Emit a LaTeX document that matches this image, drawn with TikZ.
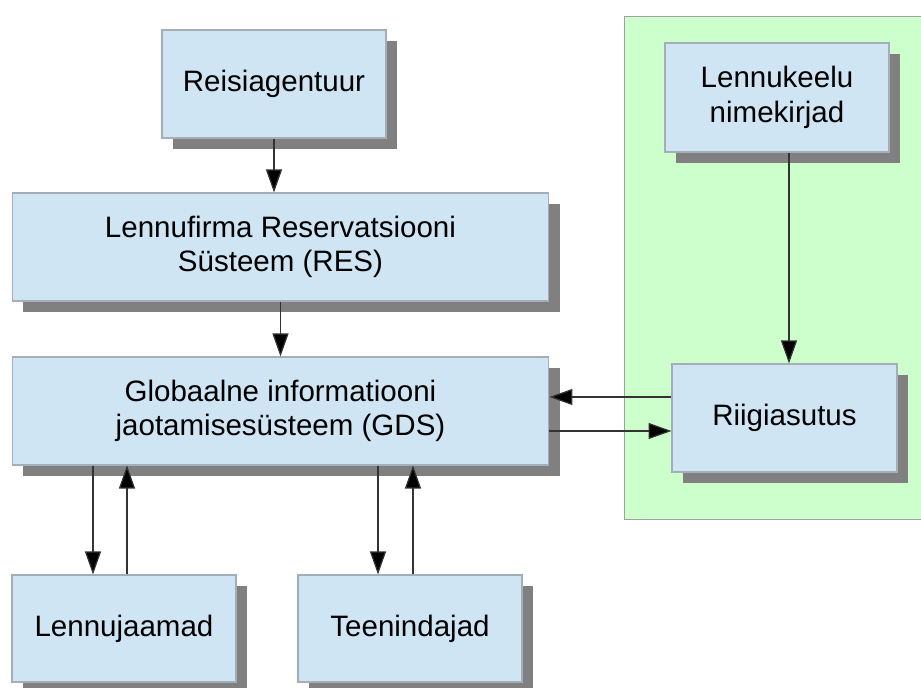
\documentclass[tikz,border=0pt]{standalone}
\usepackage{fontspec}
\setmainfont{Liberation Sans}
\usepackage{tikz}
\usetikzlibrary{shapes,arrows.meta,positioning,shadows}
\definecolor{boxfill}{HTML}{CFE5F3}
\definecolor{boxline}{HTML}{A3AEB8}
\definecolor{zonefill}{HTML}{CCFFCC}
\definecolor{zoneline}{HTML}{A0A0A0}
\definecolor{shadowgray}{HTML}{808080}

\begin{document}
\begin{tikzpicture}[x=0.02cm, y=-0.02cm,
  box/.style={draw=boxline, line width=0.6pt, fill=boxfill, align=center, inner sep=0pt,
    font=\fontsize{16.8}{19.5}\selectfont,
    drop shadow={shadow xshift=0.22cm, shadow yshift=-0.22cm, fill=shadowgray, opacity=1}},
  flow/.style={-{Triangle[length=0.46cm,width=0.32cm,fill=black]}, line width=0.7pt, black!80}]
\useasboundingbox (0,0) rectangle (921,688);

% Green zone
\node[draw=zoneline, fill=zonefill, line width=0.6pt, anchor=north west, minimum width=6.1cm, minimum height=10.06cm, inner sep=0pt] (zone) at (624,16) {};

% Boxes
\node[box, minimum width=4.48cm, minimum height=2.16cm] (reisi) at (274,84) {Reisiagentuur};
\node[box, minimum width=10.74cm, minimum height=2.16cm] (res) at (280.5,247) {Lennufirma Reservatsiooni\\Süsteem (RES)};
\node[box, minimum width=10.74cm, minimum height=2.16cm] (gds) at (280.5,411) {Globaalne informatiooni\\jaotamisesüsteem (GDS)};
\node[box, minimum width=4.48cm, minimum height=2.14cm] (lennuj) at (124,628.5) {Lennujaamad};
\node[box, minimum width=4.48cm, minimum height=2.14cm] (teen) at (410,628.5) {Teenindajad};
\node[box, minimum width=4.48cm, minimum height=2.18cm] (keelu) at (777,97.5) {Lennukeelu\\nimekirjad};
\node[box, minimum width=4.5cm, minimum height=2.16cm] (riigi) at (784.5,418) {Riigiasutus};

% Helper coordinates
\coordinate (inA) at (0,397);
\coordinate (outA) at (0,431);
\coordinate (ljdown) at (93,0);
\coordinate (ljup) at (127,0);
\coordinate (tdown) at (378,0);
\coordinate (tup) at (413,0);
\coordinate (kr) at (789,0);

% Arrows
\draw[flow] (reisi) -- (reisi |- res.north);
\draw[flow] (res) -- (res |- gds.north);
\draw[flow] (riigi.west |- inA) -- (gds.east |- inA);
\draw[flow] (gds.east |- outA) -- (riigi.west |- outA);
\draw[flow] (gds.south -| ljdown) -- (lennuj.north -| ljdown);
\draw[flow] (lennuj.north -| ljup) -- (gds.south -| ljup);
\draw[flow] (gds.south -| tdown) -- (teen.north -| tdown);
\draw[flow] (teen.north -| tup) -- (gds.south -| tup);
\draw[flow] (keelu.south -| kr) -- (riigi.north -| kr);
\end{tikzpicture}
\end{document}
